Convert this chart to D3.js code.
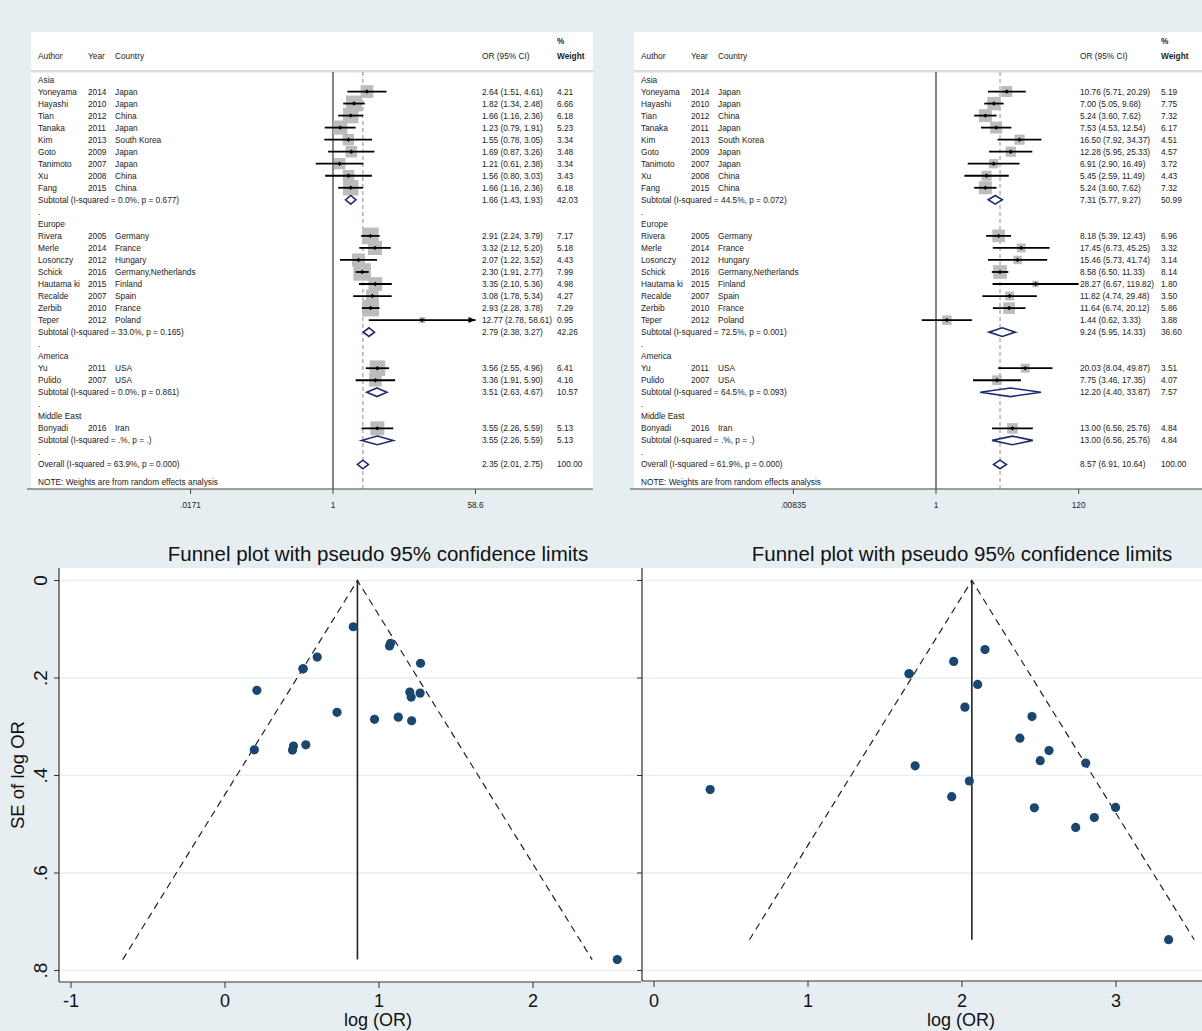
<!DOCTYPE html>
<html>
<head>
<meta charset="utf-8">
<script src="https://cdn.jsdelivr.net/npm/d3@7"></script>
<style>
body { margin: 0; background: #e6eef1 }
svg { font-family: "Liberation Sans", Arial, sans-serif; display: block }
</style>
</head>
<body>
<div id="target"></div>
<script>
let regions = ["Asia", "Europe", "America", "Middle East"]
let authors = ["Yoneyama", "Hayashi", "Tian", "Tanaka", "Kim", "Goto", "Tanimoto", "Xu", "Fang",
    "Rivera", "Merle", "Losonczy", "Schick", "Hautama ki", "Recalde", "Zerbib", "Teper",
    "Yu", "Pulido", "Bonyadi"]
let years = [2014, 2010, 2012, 2011, 2013, 2009, 2007, 2008, 2015,
    2005, 2014, 2012, 2016, 2015, 2007, 2010, 2012,
    2011, 2007, 2016]
let countries = ["Japan", "Japan", "China", "Japan", "South Korea", "Japan", "Japan", "China", "China",
    "Germany", "France", "Hungary", "Germany,Netherlands", "Finland", "Spain", "France", "Poland",
    "USA", "USA", "Iran"]
let regionOf = [0, 0, 0, 0, 0, 0, 0, 0, 0, 1, 1, 1, 1, 1, 1, 1, 1, 2, 2, 3]

// left panel
let orA = [2.64, 1.82, 1.66, 1.23, 1.55, 1.69, 1.21, 1.56, 1.66, 2.91, 3.32, 2.07, 2.30, 3.35, 3.08, 2.93, 12.77, 3.56, 3.36, 3.55]
let loA = [1.51, 1.34, 1.16, 0.79, 0.78, 0.87, 0.61, 0.80, 1.16, 2.24, 2.12, 1.22, 1.91, 2.10, 1.78, 2.28, 2.78, 2.55, 1.91, 2.26]
let hiA = [4.61, 2.48, 2.36, 1.91, 3.05, 3.26, 2.38, 3.03, 2.36, 3.79, 5.20, 3.52, 2.77, 5.36, 5.34, 3.78, 58.61, 4.96, 5.90, 5.59]
let wA = [4.21, 6.66, 6.18, 5.23, 3.34, 3.48, 3.34, 3.43, 6.18, 7.17, 5.18, 4.43, 7.99, 4.98, 4.27, 7.29, 0.95, 6.41, 4.16, 5.13]
let subOrA = [1.66, 2.79, 3.51, 3.55]
let subLoA = [1.43, 2.38, 2.63, 2.26]
let subHiA = [1.93, 3.27, 4.67, 5.59]
let subWA = [42.03, 42.26, 10.57, 5.13]
let subHetA = ["I-squared = 0.0%, p = 0.677", "I-squared = 33.0%, p = 0.165", "I-squared = 0.0%, p = 0.861", "I-squared = .%, p = ."]
let overallA = [2.35, 2.01, 2.75]
let overallHetA = "I-squared = 63.9%, p = 0.000"
let ticksA = [0.0171, 1, 58.6]
let tickLabelsA = [".0171", "1", "58.6"]

// right panel
let orB = [10.76, 7.00, 5.24, 7.53, 16.50, 12.28, 6.91, 5.45, 5.24, 8.18, 17.45, 15.46, 8.58, 28.27, 11.82, 11.64, 1.44, 20.03, 7.75, 13.00]
let loB = [5.71, 5.05, 3.60, 4.53, 7.92, 5.95, 2.90, 2.59, 3.60, 5.39, 6.73, 5.73, 6.50, 6.67, 4.74, 6.74, 0.62, 8.04, 3.46, 6.56]
let hiB = [20.29, 9.68, 7.62, 12.54, 34.37, 25.33, 16.49, 11.49, 7.62, 12.43, 45.25, 41.74, 11.33, 119.82, 29.48, 20.12, 3.33, 49.87, 17.35, 25.76]
let wB = [5.19, 7.75, 7.32, 6.17, 4.51, 4.57, 3.72, 4.43, 7.32, 6.96, 3.32, 3.14, 8.14, 1.80, 3.50, 5.86, 3.88, 3.51, 4.07, 4.84]
let subOrB = [7.31, 9.24, 12.20, 13.00]
let subLoB = [5.77, 5.95, 4.40, 6.56]
let subHiB = [9.27, 14.33, 33.87, 25.76]
let subWB = [50.99, 36.60, 7.57, 4.84]
let subHetB = ["I-squared = 44.5%, p = 0.072", "I-squared = 72.5%, p = 0.001", "I-squared = 64.5%, p = 0.093", "I-squared = .%, p = ."]
let overallB = [8.57, 6.91, 10.64]
let overallHetB = "I-squared = 61.9%, p = 0.000"
let ticksB = [0.00835, 1, 120]
let tickLabelsB = [".00835", "1", "120"]

// funnel plots
let funnelCenterA = 0.86
let funnelCenterB = 2.064
let funnelXTicksA = [-1, 0, 1, 2]
let funnelXTicksB = [0, 1, 2, 3]
let funnelYTicks = [0, 0.2, 0.4, 0.6, 0.8]
let funnelYLabels = ["0", ".2", ".4", ".6", ".8"]

let svg = d3.select("#target").append("svg").attr("width", 1202).attr("height", 1031)
let f2 = d3.format(".2f")
let navy = "#1f2c73"

let buildRows = (or, lo, hi, w, subOr, subLo, subHi, subW, subHet, overall, overallHet) => {
    let rows = []
    regions.forEach((r, ri) => {
        rows.push({ type: "head", label: r })
        or.forEach((v, i) => {
            if (regionOf[i] == ri) rows.push({ type: "study", i: i, or: v, lo: lo[i], hi: hi[i], w: w[i] })
        })
        rows.push({ type: "sub", label: "Subtotal  (" + subHet[ri] + ")", or: subOr[ri], lo: subLo[ri], hi: subHi[ri], w: subW[ri] })
        rows.push({ type: "head", label: "." })
    })
    rows.push({ type: "sub", label: "Overall  (" + overallHet + ")", or: overall[0], lo: overall[1], hi: overall[2], w: 100 })
    return rows
}

let forest = (cfg) => {
    let ob = {}
    let g = svg.append("g")
    let top = 32, axisY = 489
    g.append("rect").attr("x", cfg.left).attr("y", top).attr("width", cfg.right - cfg.left).attr("height", axisY - top).attr("fill", "white")
    g.append("rect").attr("x", cfg.left).attr("y", 70).attr("width", cfg.right - cfg.left).attr("height", 2.5).attr("fill", "#dcdcdc")

    let x = d3.scaleLog().domain([cfg.ticks[0], cfg.ticks[2]])
        .range([cfg.nullX - cfg.px * Math.log(1 / cfg.ticks[0]), cfg.nullX + cfg.px * Math.log(cfg.ticks[2])])
    let rowY = (i) => 82.5 + 12.03 * i
    let fs = "8.3px"
    let txt = (xx, yy, s, anchor) => g.append("text").attr("x", xx).attr("y", yy).attr("font-size", fs)
        .attr("fill", "#222").attr("text-anchor", anchor || "start").text(s)

    txt(cfg.left + 7, 58.5, "Author")
    txt(cfg.left + 57, 58.5, "Year")
    txt(cfg.left + 84, 58.5, "Country")
    txt(cfg.valX, 58.5, "OR (95% CI)")
    txt(cfg.wX, 44, "%").attr("font-weight", "bold")
    txt(cfg.wX, 58.5, "Weight").attr("font-weight", "bold")

    let rows = buildRows(cfg.or, cfg.lo, cfg.hi, cfg.w, cfg.subOr, cfg.subLo, cfg.subHi, cfg.subW, cfg.subHet, cfg.overall, cfg.overallHet)

    // reference lines
    g.append("line").attr("x1", cfg.nullX).attr("x2", cfg.nullX).attr("y1", 72).attr("y2", axisY)
        .attr("stroke", "#333").attr("stroke-width", 1.2)
    g.append("line").attr("x1", x(cfg.overall[0])).attr("x2", x(cfg.overall[0])).attr("y1", 72).attr("y2", axisY)
        .attr("stroke", "#a8808c").attr("stroke-width", 1).attr("stroke-dasharray", "4,3")

    rows.forEach((d, ri) => {
        let yb = rowY(ri)
        let yc = yb - 3
        if (d.type == "head") {
            txt(cfg.left + 7, yb, d.label)
        } else if (d.type == "study") {
            txt(cfg.left + 7, yb, authors[d.i])
            txt(cfg.left + 57, yb, years[d.i])
            txt(cfg.left + 84, yb, countries[d.i])
            txt(cfg.valX, yb, f2(d.or) + " (" + f2(d.lo) + ", " + f2(d.hi) + ")")
            txt(cfg.wX, yb, f2(d.w))
            let s = cfg.k * Math.sqrt(d.w)
            g.append("rect").attr("x", x(d.or) - s / 2).attr("y", yc - s / 2).attr("width", s).attr("height", s).attr("fill", "#bcbcbc")
            let xmax = x.range()[1]
            let x2 = Math.min(x(d.hi), xmax)
            g.append("line").attr("x1", x(d.lo)).attr("x2", x2).attr("y1", yc).attr("y2", yc)
                .attr("stroke", "black").attr("stroke-width", 1.8)
            if (d.hi > cfg.ticks[2]) {
                g.append("path").attr("d", `M${xmax},${yc} l-7,-3 l0,6 z`).attr("fill", "black")
            }
            g.append("path").attr("d", `M${x(d.or)},${yc - 2.2} l2.2,2.2 l-2.2,2.2 l-2.2,-2.2 z`).attr("fill", "black")
        } else {
            txt(cfg.left + 7, yb, d.label)
            txt(cfg.valX, yb, f2(d.or) + " (" + f2(d.lo) + ", " + f2(d.hi) + ")")
            txt(cfg.wX, yb, f2(d.w))
            let h = 4.3
            g.append("path").attr("d", `M${x(d.lo)},${yc} L${x(d.or)},${yc - h} L${x(d.hi)},${yc} L${x(d.or)},${yc + h} Z`)
                .attr("fill", "white").attr("stroke", navy).attr("stroke-width", 1.6)
        }
    })
    txt(cfg.left + 7, 485, "NOTE: Weights are from random effects analysis")

    // axis
    g.append("line").attr("x1", cfg.left - 4).attr("x2", cfg.right).attr("y1", axisY).attr("y2", axisY)
        .attr("stroke", "#444").attr("stroke-width", 1)
    cfg.ticks.forEach((t, i) => {
        g.append("line").attr("x1", x(t)).attr("x2", x(t)).attr("y1", axisY).attr("y2", axisY + 5)
            .attr("stroke", "#444").attr("stroke-width", 1)
        txt(x(t), 508, cfg.tickLabels[i], "middle")
    })
    return ob
}

forest({
    left: 31, right: 593, nullX: 333, px: 35, k: 6.2, valX: 482, wX: 557,
    or: orA, lo: loA, hi: hiA, w: wA, subOr: subOrA, subLo: subLoA, subHi: subHiA, subW: subWA, subHet: subHetA,
    overall: overallA, overallHet: overallHetA, ticks: ticksA, tickLabels: tickLabelsA
})
forest({
    left: 634, right: 1202, nullX: 936, px: 29.8, k: 4.8, valX: 1080, wX: 1161,
    or: orB, lo: loB, hi: hiB, w: wB, subOr: subOrB, subLo: subLoB, subHi: subHiB, subW: subWB, subHet: subHetB,
    overall: overallB, overallHet: overallHetB, ticks: ticksB, tickLabels: tickLabelsB
})

let funnel = (cfg) => {
    let g = svg.append("g")
    let x = d3.scaleLinear().domain([0, 1]).range([cfg.x0, cfg.x0 + 154])
    let y = d3.scaleLinear().domain([0, 0.8]).range([580.5, 970.5])
    let clipId = "clip" + cfg.left
    g.append("clipPath").attr("id", clipId).append("rect")
        .attr("x", cfg.left).attr("y", 568).attr("width", cfg.right - cfg.left).attr("height", cfg.bottom - 568)
    g.append("rect").attr("x", cfg.left).attr("y", 568).attr("width", cfg.right - cfg.left).attr("height", cfg.bottom - 568).attr("fill", "white")
    funnelYTicks.forEach(t => {
        g.append("line").attr("x1", cfg.left).attr("x2", cfg.right).attr("y1", y(t)).attr("y2", y(t))
            .attr("stroke", "#e6eff1").attr("stroke-width", 1.6)
    })

    let pts = cfg.or.map((v, i) => ({ lor: Math.log(v), se: (Math.log(cfg.hi[i]) - Math.log(cfg.lo[i])) / (2 * 1.96) }))
    let maxSe = d3.max(pts, d => d.se)
    let inner = g.append("g").attr("clip-path", `url(#${clipId})`)
    let c = cfg.center
    inner.append("path").attr("d", `M${x(c - 1.96 * maxSe)},${y(maxSe)} L${x(c)},${y(0)} L${x(c + 1.96 * maxSe)},${y(maxSe)}`)
        .attr("fill", "none").attr("stroke", "#222").attr("stroke-width", 1.2).attr("stroke-dasharray", "7,5")
    inner.append("line").attr("x1", x(c)).attr("x2", x(c)).attr("y1", y(0)).attr("y2", y(maxSe))
        .attr("stroke", "#222").attr("stroke-width", 1.6)
    inner.selectAll("circle").data(pts).enter().append("circle")
        .attr("cx", d => x(d.lor)).attr("cy", d => y(d.se)).attr("r", 4.6).attr("fill", "#1a476f")

    // axes
    g.append("line").attr("x1", cfg.left).attr("x2", cfg.left).attr("y1", 568).attr("y2", cfg.bottom).attr("stroke", "#333").attr("stroke-width", 1.2)
    g.append("line").attr("x1", cfg.left).attr("x2", cfg.right).attr("y1", cfg.bottom).attr("y2", cfg.bottom).attr("stroke", "#333").attr("stroke-width", 1.2)
    funnelYTicks.forEach((t, i) => {
        g.append("line").attr("x1", cfg.left - 5).attr("x2", cfg.left).attr("y1", y(t)).attr("y2", y(t)).attr("stroke", "#333")
        if (cfg.yLabels) {
            g.append("text").attr("transform", `translate(${cfg.left - 12},${y(t)}) rotate(-90)`)
                .attr("text-anchor", "middle").attr("font-size", "19px").attr("fill", "#111").text(funnelYLabels[i])
        }
    })
    cfg.xTicks.forEach(t => {
        g.append("line").attr("x1", x(t)).attr("x2", x(t)).attr("y1", cfg.bottom).attr("y2", cfg.bottom + 6).attr("stroke", "#333")
        g.append("text").attr("x", x(t)).attr("y", 1007).attr("text-anchor", "middle").attr("font-size", "18px").attr("fill", "#111").text(t)
    })
    g.append("text").attr("x", cfg.titleX).attr("y", 561).attr("text-anchor", "middle").attr("font-size", "20.5px").attr("fill", "#111")
        .text("Funnel plot with pseudo 95% confidence limits")
    g.append("text").attr("x", cfg.labelX).attr("y", 1026).attr("text-anchor", "middle").attr("font-size", "18px").attr("fill", "#111")
        .text("log (OR)")
    if (cfg.yLabels) {
        g.append("text").attr("transform", `translate(24,775) rotate(-90)`).attr("text-anchor", "middle")
            .attr("font-size", "18.5px").attr("fill", "#111").text("SE of log OR")
    }
}

funnel({ left: 59, right: 641, bottom: 982, x0: 225, center: funnelCenterA, or: orA, lo: loA, hi: hiA,
    xTicks: funnelXTicksA, yLabels: true, titleX: 378, labelX: 378 })
funnel({ left: 642, right: 1202, bottom: 981, x0: 654, center: funnelCenterB, or: orB, lo: loB, hi: hiB,
    xTicks: funnelXTicksB, yLabels: false, titleX: 962, labelX: 961 })
</script>
</body>
</html>
